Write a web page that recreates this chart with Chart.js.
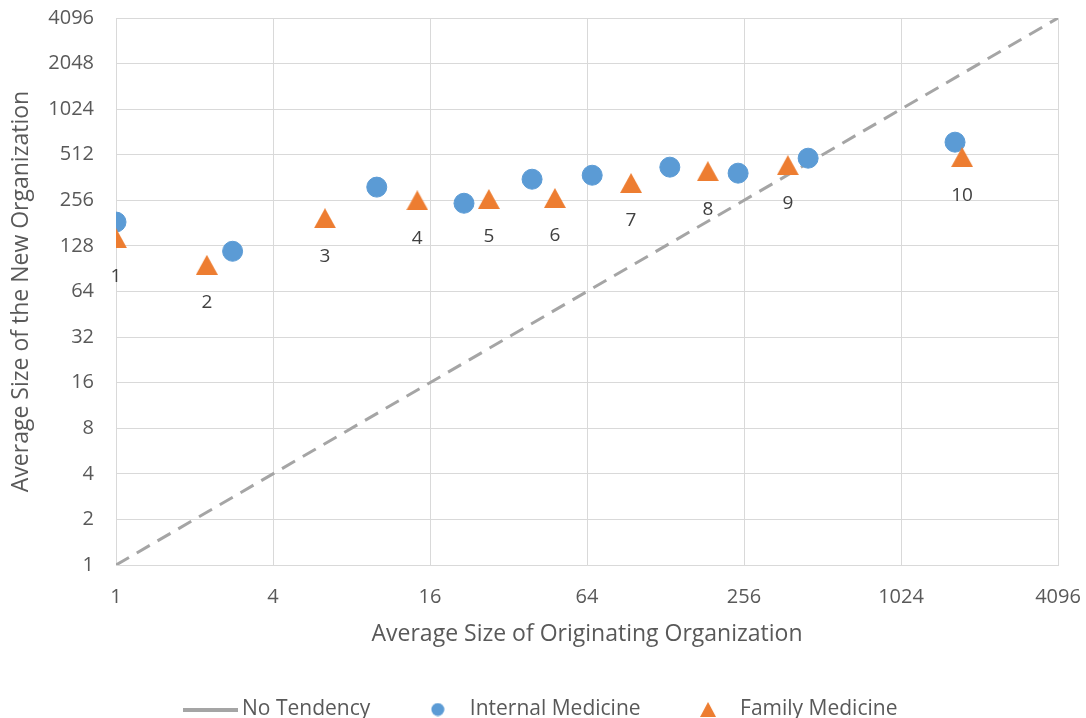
<!DOCTYPE html>
<html>
<head>
<meta charset="utf-8">
<script src="https://cdn.jsdelivr.net/npm/chart.js@4"></script>
<style>
  html, body { margin: 0; padding: 0; background: #fff; }
  #wrap { width: 1086px; height: 718px; }
</style>
</head>
<body>
<div id="wrap"><canvas id="chart"></canvas></div>
<script>
// axis ticks (powers of two)
const xTicks = [1, 4, 16, 64, 256, 1024, 4096];
const yTicks = [1, 2, 4, 8, 16, 32, 64, 128, 256, 512, 1024, 2048, 4096];

// no tendency diagonal
const tendencyX = [1, 4096];
const tendencyY = [1, 4096];

// Internal Medicine
const imX = [1, 2.8, 10, 21.6, 39.4, 67, 133, 243, 451, 1650];
const imY = [184, 118, 313, 245, 353, 375, 424, 387, 486, 620];

// Family Medicine
const fmX = [1, 2.23, 6.33, 14.3, 26.9, 48.2, 94.4, 186, 377, 1756];
const fmY = [144, 96, 195, 256, 261, 265, 333, 399, 437, 494];
const fmLabels = ['1', '2', '3', '4', '5', '6', '7', '8', '9', '10'];

const FONT = "'Open Sans', sans-serif";
const GRAY = '#a5a5a5';
const BLUE = '#5b9bd5';
const ORANGE = '#ed7d31';

function toPoints(xs, ys) {
    return xs.map((x, i) => ({ x: x, y: ys[i] }));
}

// little canvases used as marker / legend symbols
function makeSymbol(w, h, draw) {
    const c = document.createElement('canvas');
    c.width = w;
    c.height = h;
    draw(c.getContext('2d'));
    return c;
}
function triangle(w, h) {
    return makeSymbol(w, h, g => {
        g.fillStyle = ORANGE; g.beginPath();
        g.moveTo(w / 2, 0); g.lineTo(w, h); g.lineTo(0, h); g.closePath(); g.fill();
    });
}
// Excel-like triangle marker, centred on its bounding box
const triMarker = triangle(22, 20);
const legendSymbols = [
    makeSymbol(55, 4, g => { g.fillStyle = GRAY; g.fillRect(0, 0, 55, 4); }),
    makeSymbol(14, 14, g => { g.fillStyle = BLUE; g.beginPath(); g.arc(7, 7, 6.5, 0, Math.PI * 2); g.fill(); }),
    triangle(16, 15)
];

// Draw the group numbers under the triangles
const pointLabelPlugin = {
    id: 'pointLabels',
    afterDatasetsDraw(chart) {
        const meta = chart.getDatasetMeta(2);
        const ctx = chart.ctx;
        ctx.save();
        ctx.font = '19px ' + FONT;
        ctx.fillStyle = '#404040';
        ctx.textAlign = 'center';
        ctx.textBaseline = 'middle';
        meta.data.forEach((pt, i) => {
            ctx.fillText(fmLabels[i], pt.x, pt.y + 38);
        });
        ctx.restore();
    }
};

const ctx = document.getElementById('chart').getContext('2d');
new Chart(ctx, {
    type: 'scatter',
    data: {
        datasets: [{
            label: 'No Tendency',
            data: toPoints(tendencyX, tendencyY),
            showLine: true,
            borderColor: GRAY,
            backgroundColor: GRAY,
            borderWidth: 3,
            borderDash: [15, 9],
            pointRadius: 0,
            order: 2
        }, {
            label: 'Internal Medicine',
            data: toPoints(imX, imY),
            backgroundColor: BLUE,
            borderColor: BLUE,
            pointStyle: 'circle',
            pointRadius: 10,
            pointHoverRadius: 10,
            order: 1
        }, {
            label: 'Family Medicine',
            data: toPoints(fmX, fmY),
            backgroundColor: ORANGE,
            borderColor: ORANGE,
            pointStyle: triMarker,
            pointRadius: 11,
            pointHoverRadius: 11,
            order: 0
        }]
    },
    options: {
        responsive: true,
        maintainAspectRatio: false,
        animation: false,
        layout: { padding: { top: 0, right: 0, left: 0, bottom: -12 } },
        plugins: {
            tooltip: { enabled: false },
            legend: {
                position: 'bottom',
                labels: {
                    usePointStyle: true,
                    pointStyleWidth: 43,
                    boxHeight: 14,
                    padding: 46,
                    color: '#595959',
                    font: { family: FONT, size: 21 },
                    sort: (a, b) => a.datasetIndex - b.datasetIndex,
                    generateLabels: chart => {
                        const items = Chart.defaults.plugins.legend.labels.generateLabels(chart);
                        items.forEach(it => { it.pointStyle = legendSymbols[it.datasetIndex]; });
                        return items;
                    }
                }
            }
        },
        scales: {
            x: {
                type: 'logarithmic',
                min: 1,
                max: 4096,
                afterBuildTicks: axis => { axis.ticks = xTicks.map(v => ({ value: v })); },
                afterFit: axis => {
                    axis.height = 88;
                    axis.paddingRight = 28;
                    axis.paddingLeft = 0;
                },
                ticks: {
                    color: '#595959',
                    font: { family: FONT, size: 20 },
                    maxRotation: 0,
                    padding: 20,
                    callback: v => String(v)
                },
                grid: { color: '#d9d9d9', drawTicks: false },
                border: { color: '#d9d9d9' },
                title: {
                    display: true,
                    text: 'Average Size of Originating Organization',
                    color: '#595959',
                    font: { family: FONT, size: 23 },
                    padding: { top: 10, bottom: 5 }
                }
            },
            y: {
                type: 'logarithmic',
                min: 1,
                max: 4096,
                afterBuildTicks: axis => { axis.ticks = yTicks.map(v => ({ value: v })); },
                afterFit: axis => {
                    axis.width = 116;
                    axis.paddingTop = 18;
                    axis.paddingBottom = 0;
                },
                ticks: {
                    color: '#595959',
                    font: { family: FONT, size: 20 },
                    padding: 22,
                    callback: v => String(v)
                },
                grid: { color: '#d9d9d9', drawTicks: false },
                border: { color: '#d9d9d9' },
                title: {
                    display: true,
                    text: 'Average Size of the New Organization',
                    color: '#595959',
                    font: { family: FONT, size: 23 },
                    padding: { top: 8, bottom: 0 }
                }
            }
        }
    },
    plugins: [pointLabelPlugin]
});
</script>
</body>
</html>
